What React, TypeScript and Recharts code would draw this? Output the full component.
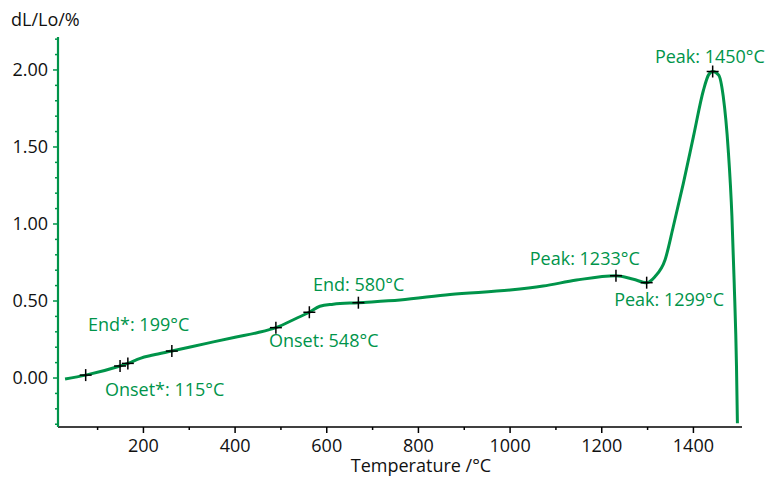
import React from 'react';
import { ComposedChart, Line, Scatter, XAxis, YAxis } from 'recharts';

// dilatometer curve
const curve = [
  { x: 29, y: -0.006 }, { x: 74, y: 0.019 }, { x: 149, y: 0.078 }, { x: 166, y: 0.095 },
  { x: 193, y: 0.128 }, { x: 221, y: 0.149 }, { x: 262, y: 0.175 }, { x: 338, y: 0.225 },
  { x: 400, y: 0.265 }, { x: 450, y: 0.295 }, { x: 489, y: 0.327 }, { x: 534, y: 0.388 },
  { x: 562, y: 0.427 }, { x: 585, y: 0.466 }, { x: 614, y: 0.479 }, { x: 669, y: 0.489 },
  { x: 760, y: 0.506 }, { x: 869, y: 0.543 }, { x: 1000, y: 0.571 }, { x: 1072, y: 0.597 },
  { x: 1145, y: 0.636 }, { x: 1231, y: 0.664 }, { x: 1269, y: 0.641 }, { x: 1298, y: 0.619 },
  { x: 1316, y: 0.658 }, { x: 1338, y: 0.766 }, { x: 1356, y: 0.982 }, { x: 1378, y: 1.264 },
  { x: 1400, y: 1.567 }, { x: 1422, y: 1.87 }, { x: 1433, y: 1.968 }, { x: 1442, y: 1.99 },
  { x: 1455, y: 1.968 }, { x: 1465, y: 1.83 }, { x: 1476, y: 1.48 }, { x: 1484, y: 1.05 },
  { x: 1489, y: 0.615 }, { x: 1494, y: 0.073 }, { x: 1496, y: -0.294 },
];

const markers = [
  { x: 74, y: 0.019 }, { x: 149, y: 0.078 }, { x: 166, y: 0.095 }, { x: 262, y: 0.175 },
  { x: 489, y: 0.327 }, { x: 562, y: 0.427 }, { x: 669, y: 0.489 }, { x: 1231, y: 0.664 },
  { x: 1298, y: 0.619 }, { x: 1442, y: 1.99 },
];

// annotation text, anchored at text start / baseline
const notes = [
  { x: 1316, y: 2.045, text: 'Peak: 1450°C' },
  { x: 1043, y: 0.734, text: 'Peak: 1233°C' },
  { x: 1227, y: 0.468, text: 'Peak: 1299°C' },
  { x: 570, y: 0.565, text: 'End: 580°C' },
  { x: 474, y: 0.201, text: 'Onset: 548°C' },
  { x: 79, y: 0.305, text: 'End*: 199°C' },
  { x: 116, y: -0.117, text: 'Onset*: 115°C' },
];

const xTicks = [100, 200, 300, 400, 500, 600, 700, 800, 900, 1000, 1100, 1200, 1300, 1400];
const yTicks = [-0.3, -0.2, -0.1, 0, 0.1, 0.2, 0.3, 0.4, 0.5, 0.6, 0.7, 0.8, 0.9, 1, 1.1, 1.2, 1.3, 1.4, 1.5, 1.6, 1.7, 1.8, 1.9, 2, 2.1, 2.2];

const GREEN = '#00944a';
const FONT = '"Open Sans", sans-serif';

function XTick(props: any) {
  const { x, y, payload } = props;
  const major = payload.value % 200 === 0;
  return (
    <g>
      <line x1={x} x2={x} y1={y} y2={y + (major ? 6 : 3)} stroke="#000" strokeWidth={1.5} />
      {major && (
        <text x={x} y={y + 25} textAnchor="middle" fontSize={18} fontFamily={FONT} fill="#111">
          {payload.value}
        </text>
      )}
    </g>
  );
}

function YTick(props: any) {
  const { x, y, payload } = props;
  const v = payload.value;
  const major = Math.abs(v * 2 - Math.round(v * 2)) < 1e-6;
  return (
    <g>
      <line x1={x - (major ? 5 : 3)} x2={x} y1={y} y2={y} stroke={GREEN} strokeWidth={1.5} />
      {major && (
        <text x={x - 10} y={y + 6} textAnchor="end" fontSize={18} fontFamily={FONT} fill="#111">
          {v.toFixed(2)}
        </text>
      )}
    </g>
  );
}

function Cross(props: any) {
  const { cx, cy } = props;
  return (
    <g stroke="#000" strokeWidth={1.5}>
      <line x1={cx - 6} x2={cx + 6} y1={cy} y2={cy} />
      <line x1={cx} x2={cx} y1={cy - 6} y2={cy + 6} />
    </g>
  );
}

function Note(props: any) {
  const { cx, cy, payload } = props;
  return (
    <text x={cx} y={cy} fontSize={18} fontFamily={FONT} fill={GREEN}>
      {payload.text}
    </text>
  );
}

export default function App() {
  return (
    <div style={{ position: 'absolute', left: 0, top: 0, width: 774, height: 477, background: '#fff' }}>
      <ComposedChart width={774} height={477} margin={{ top: 37, right: 32, left: 0, bottom: 0 }}>
        <XAxis
          type="number"
          dataKey="x"
          domain={[13.6, 1506]}
          ticks={xTicks}
          interval={0}
          tick={<XTick />}
          tickLine={false}
          tickSize={0}
          tickMargin={0}
          height={50}
          axisLine={{ stroke: '#000', strokeWidth: 1.5 }}
        />
        <YAxis
          type="number"
          dataKey="y"
          domain={[-0.318, 2.214]}
          ticks={yTicks}
          interval={0}
          tick={<YTick />}
          tickLine={false}
          tickSize={0}
          tickMargin={0}
          width={58}
          axisLine={{ stroke: GREEN, strokeWidth: 2.2 }}
        />
        <Line
          data={curve}
          dataKey="y"
          type="monotone"
          stroke={GREEN}
          strokeWidth={3}
          dot={false}
          activeDot={false}
          isAnimationActive={false}
        />
        <Scatter data={markers} dataKey="y" shape={<Cross />} isAnimationActive={false} />
        <Scatter data={notes} dataKey="y" shape={<Note />} isAnimationActive={false} />
      </ComposedChart>
      <svg width={774} height={477} style={{ position: 'absolute', left: 0, top: 0, pointerEvents: 'none' }}>
        <text x={11} y={26} fontSize={18} fontFamily={FONT} fill="#111">dL/Lo/%</text>
        <text x={421} y={472} textAnchor="middle" fontSize={18} fontFamily={FONT} fill="#111">Temperature /°C</text>
      </svg>
    </div>
  );
}
